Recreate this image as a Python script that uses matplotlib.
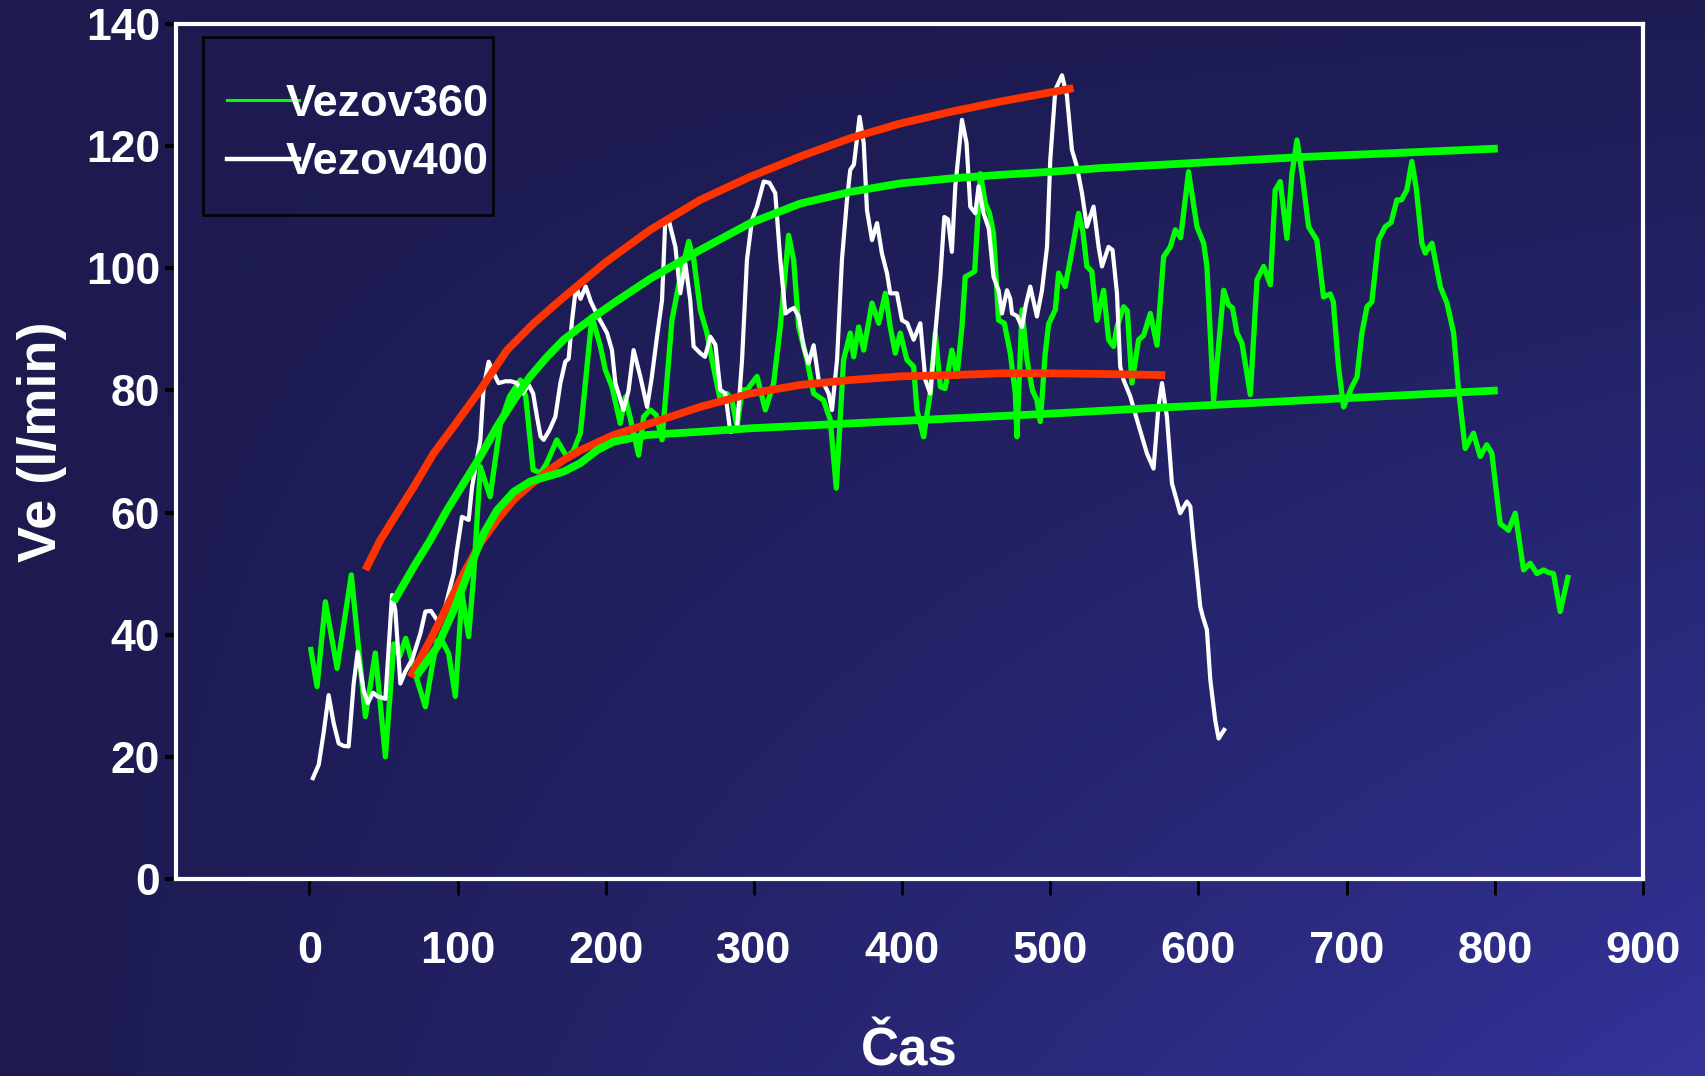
import numpy as np
import matplotlib
matplotlib.use("Agg")
import matplotlib.pyplot as plt
from matplotlib.lines import Line2D
from matplotlib.patches import Rectangle

# Vezov360 (green trace)
v360_t = [0.7, 5.2, 10.8, 18.7, 28.3, 37.8, 44.5, 51.3, 57, 61, 65, 72.7, 78.3, 82.8, 86.2, 90,
          94.0, 98.5, 103.0, 107.5, 110.8, 115.4, 122.0, 128.9, 135, 142.4, 146, 151.0, 156, 160,
          167.0, 173.6, 178, 182.9, 190.7, 196.4, 199.7, 204.2, 209.8, 213.2, 217, 222.2, 225.6,
          230, 234, 238.0, 244.7, 250.3, 256.0, 259.4, 263.8, 268.3, 271.7, 277.3, 281.8, 285.2,
          288.6, 292.0, 295.4, 302.1, 307.7, 313.3, 317.8, 323.4, 326.8, 330.2, 335.8, 340.3,
          347.0, 351.5, 355.6, 360.5, 365.0, 367.3, 370.7, 374.1, 379.7, 384.2, 388.7, 392.0,
          395.4, 398.8, 403.3, 407.8, 410.0, 414.5, 419.0, 422.4, 425.8, 429, 433.6, 437.0, 440.4,
          442.6, 447.1, 449, 452.8, 456.2, 459, 461.7, 465.1, 469, 473.0, 476.4, 477.5, 480.9,
          484.3, 488, 491.0, 493.3, 496.6, 498.9, 503.4, 505.6, 510.0, 513.5, 515.7, 519.1, 522,
          524.7, 528, 531.5, 536.0, 539.4, 542.7, 545, 549.5, 552, 555.1, 559.6, 563, 567.5,
          572.0, 576.5, 581.0, 584.4, 588, 593.3, 599.0, 603.5, 605.7, 610.2, 617.0, 620.3, 623,
          626.0, 629.4, 635.0, 639.5, 644.0, 648.5, 651.8, 655.2, 659.7, 663.1, 666.5, 669.9,
          674.3, 679.9, 684.4, 688.9, 691, 694.5, 697.9, 703.6, 707.0, 710.3, 713.7, 717, 721.5,
          726.0, 730, 733.9, 737, 740.6, 744.0, 747, 750.8, 753.0, 757.6, 763.2, 767.7, 772.2,
          775.5, 780.0, 785.6, 790.1, 794.6, 798.0, 803.6, 809.2, 813.8, 819.4, 823.9, 828.4,
          832.9, 836, 839.6, 844.1, 849.7]
v360_ve = [38.0, 31.5, 45.4, 34.5, 49.8, 26.6, 37.0, 20.0, 38.5, 36.5, 39.4, 32.6, 28.2, 34.8, 39.0,
           38.8, 36.9, 29.9, 46.8, 39.7, 49.5, 67.5, 62.6, 74.6, 79, 81.7, 79, 67.0, 66.5, 68,
           71.9, 69.2, 70, 73.0, 92.1, 87.2, 83.4, 80.6, 74.6, 78.9, 75, 69.4, 75.7,
           76.8, 76, 71.9, 91.5, 98.6, 104.4, 101.4, 93.2, 89.4, 85.0, 78.4, 79.5, 78.4,
           74.1, 80.1, 80.1, 82.3, 76.8, 81.2, 90.4, 105.4, 101.4, 90.4, 85.0, 79.5,
           78.4, 75.2, 64.0, 85.0, 89.4, 85.5, 90.4, 86.6, 94.3, 91.0, 95.9, 90.4,
           86.1, 89.4, 85.0, 83.9, 76.8, 72.4, 79.5, 89.4, 80.6, 80.3, 86.6, 82.3, 90.4,
           98.6, 99.2, 99.5, 115.5, 110.6, 109, 105.7, 91.5, 91, 86.1, 79.5, 72.4, 93.2,
           85.0, 80, 78.4, 74.9, 86.1, 90.9, 93.2, 99.2, 97.0, 101.4, 104.4, 109.0, 106,
           100.3, 99.5, 91.5, 96.4, 88.3, 87.2, 90.4, 93.7, 93, 81.2, 88.3, 89, 92.6,
           87.4, 101.9, 103.5, 106.3, 105, 115.8, 106.8, 104.1, 100.3, 78.4, 96.4, 94.0, 93.5,
           89.4, 87.7, 79.3, 98.1, 100.3, 97.3, 112.8, 114.2, 104.9, 115.5, 121.0, 115.5,
           106.8, 104.6, 95.3, 95.8, 94.5, 83.9, 77.3, 80.6, 82.2, 89.4, 93.7, 94.5, 104.6,
           106.8, 107.5, 111.2, 111.2, 112.8, 117.5, 113, 104.1, 102.5, 104.1, 97.0, 94.3, 89.4,
           80.1, 70.5, 73.0, 69.2, 71.1, 69.7, 58.2, 57.1, 59.9, 50.6, 51.7, 50.0,
           50.6, 50.2, 50.0, 43.8, 49.8]

# Vezov400 (white trace)
v400_t = [1.8, 6.3, 9.6, 13.0, 16.4, 19.8, 23, 26.5, 29.9, 32.6, 36.6, 39.4, 43, 46, 51.3, 55.8, 58,
          61.4, 64.8, 69.3, 74.9, 78.3, 82, 86.2, 90, 94.0, 97.4, 99.6, 103.0, 107.5, 109.8, 112.5,
          115.4, 117.6, 121.0, 124, 127.7, 132.2, 136, 140.1, 144, 148.0, 151, 153.6, 156, 158.1,
          162, 166.0, 169.4, 172.7, 175, 177.3, 180, 183, 186.5, 190, 195, 200.9, 204.2, 206.5,
          212.0, 215.4, 218.8, 223.3, 227.9, 231, 234.6, 238.0, 240.2, 242.5, 247.0, 250.3, 253.7,
          257.0, 259.3, 263.8, 267, 270.6, 274, 277.3, 280.7, 284.1, 288.5, 292.0, 295.3, 298.7,
          302.1, 306.6, 310.5, 314.4, 317.8, 321.2, 324.6, 327, 330.2, 333.5, 336.9, 340.3, 343.7,
          347, 350.4, 352.7, 356.1, 359.4, 362.8, 365.0, 367.5, 371.3, 374.1, 376.3, 379.7, 383.1,
          386.4, 389.8, 392.0, 396.5, 399.9, 403.5, 407.8, 412.3, 415.7, 419.0, 422.4, 425.8, 428.5,
          431, 433.6, 435.9, 440.4, 443.5, 446.0, 449.4, 451.6, 455.0, 458.5, 461.7, 465.1, 467.4,
          470.8, 473, 474.2, 477.5, 480.9, 483.5, 486.5, 491.0, 494.4, 497.8, 500.0, 503.4, 507.9,
          511.2, 514.6, 518.0, 521.4, 524.7, 529.2, 532.6, 534.9, 539.3, 542, 545.0, 547.2, 549.5,
          554, 558.5, 561.9, 565.2, 569.7, 573, 575.4, 578.7, 582.1, 587.7, 592.2, 594.5, 596.6,
          599, 601.2, 603, 605.7, 608, 611.3, 613.6, 618.1]
v400_ve = [16.2, 18.7, 23.9, 30.1, 25.5, 22.2, 21.8, 21.7, 32.0, 37.2, 30.9, 28.8, 30.5, 29.9, 29.5,
           46.5, 44, 32.0, 34, 35.9, 40.2, 43.8, 43.9, 42.4, 42.8, 46.8, 50.0, 53.9, 59.3, 58.8,
           64.2, 68, 71.9, 80.6, 84.7, 83, 81.2, 81.5, 81.5, 81.2, 79.5, 80.9, 79.5, 75.7, 72.5,
           71.9, 73.5, 75.7, 81.2, 84.7, 85.2, 91.5, 97, 95, 97, 94.5, 92, 89.4, 86.6, 81.2,
           76.8, 80, 86.6, 82.3, 77.3, 82, 88.8, 94.8, 107.9, 107.9, 103.5, 95.9, 100.8,
           94.8, 87.2, 86.1, 85.5, 88.8, 87.5, 80.1, 79.5, 73.2, 73.5, 85.0, 101.4, 107.9,
           110.1, 114.2, 114, 112.3, 101.4, 92.6, 93.2, 93.5, 92.1, 87.2, 84.4, 87.4, 81.7,
           81.2, 79.5, 76.8, 85.0, 101.4, 111.2, 116.1, 117, 124.8, 120.5, 109.5, 104.6, 107.4,
           102.4, 99.2, 95.9, 95.9, 91.5, 91, 88.3, 91.0, 81.7, 79.5, 89.4, 98.6, 108.4,
           108, 102.7, 113.4, 124.3, 120.5, 110.1, 109.0, 113.4, 109.0, 106.5, 98.6, 96.4, 92.6,
           96.4, 95, 92.6, 92.2, 90.4, 94, 97.0, 92.1, 96.4, 103.5, 117.8, 129.2, 131.6,
           128.3, 119.4, 116.6, 112.3, 106.8, 110.1, 103.5, 100.3, 103.5, 103, 95.9, 83.9, 81.7,
           79, 75.2, 72.4, 69.7, 67.2, 77.3, 81.2, 75.7, 64.8, 59.9, 61.8, 61, 55.5,
           50, 44.6, 42.9, 40.8, 32.6, 26, 23, 24.7]

# hand-drawn envelope curves
red_top_t = [37.8, 47.9, 59.2, 70.4, 83.9, 97.4, 115.4, 133.4, 151.4, 169.4, 200, 230.1, 263.8,
             297.6, 331.3, 365, 398.8, 432.5, 466.3, 500, 515.7]
red_top_ve = [50.6, 55.5, 59.9, 64.2, 69.7, 74.1, 80.1, 86.6, 91.0, 94.8, 101.0, 106.3, 111.2,
              115.0, 118.3, 121.3, 123.7, 125.6, 127.3, 128.8, 129.5]
red_low_t = [68.2, 81.6, 92.9, 104.1, 115.4, 126.7, 137.9, 149.1, 160.4, 171.6, 182.9, 205.3,
             230, 263.8, 297.6, 331.3, 365, 398.8, 432.5, 466.3, 500, 533.7, 577.6]
red_low_ve = [33.1, 39.1, 44.6, 50.0, 55.0, 58.8, 62.1, 64.5, 66.7, 68.6, 70.2, 72.7,
              74.6, 77.3, 79.5, 80.9, 81.7, 82.3, 82.5, 82.8, 82.8, 82.7, 82.5]
green_top_t = [56.9, 70.4, 81.6, 92.9, 104.1, 115.4, 126.7, 137.9, 149.1, 160.4, 171.6, 182.9,
               194.1, 205.3, 230.1, 263.8, 297.6, 331.3, 365, 398.8, 432.5, 466.3, 500, 533.7,
               668.7, 802]
green_top_ve = [45.4, 51.1, 55.5, 60.4, 64.8, 69.2, 74.1, 78.4, 82.3, 85.5, 88.3, 90.4,
                92.4, 94.3, 98.3, 103.0, 107.4, 110.6, 112.5, 113.9, 114.7, 115.3, 115.8, 116.4,
                118.2, 119.6]
green_low_t = [72.5, 86.2, 97.4, 108.6, 117.6, 126.7, 137.9, 149.1, 160.4, 171.6, 182.9, 194.1,
               205.3, 227.9, 261.6, 297.6, 365, 432.5, 500, 567.5, 802]
green_low_ve = [33.3, 38.0, 44.0, 51.1, 56.6, 60.4, 63.4, 65.1, 65.9, 66.7, 68.1, 70.2,
                71.6, 72.7, 73.2, 73.8, 74.6, 75.4, 76.2, 77.1, 80.0]

x_ticks = [0, 100, 200, 300, 400, 500, 600, 700, 800, 900]
y_ticks = [0, 20, 40, 60, 80, 100, 120, 140]

plt.rcParams['font.family'] = ['Liberation Sans', 'DejaVu Sans']
plt.rcParams['font.weight'] = 'bold'

W, H = 1705, 1076
fig = plt.figure(figsize=(W / 100, H / 100), dpi=100)

# navy background brightening towards the lower right corner
xx, yy = np.meshgrid(np.linspace(0, 1, W), np.linspace(0, 1, H))
f = xx * (0.05 + 0.95 * yy)
dark = np.array([28, 26, 78]) / 255
bright = np.array([52, 51, 154]) / 255
grad = dark[None, None, :] + (bright - dark)[None, None, :] * f[..., None]
bg = fig.add_axes([0, 0, 1, 1], zorder=-1)
bg.imshow(grad, aspect='auto', extent=[0, 1, 0, 1])
bg.axis('off')

ax = fig.add_axes([0.10323, 0.18309, 0.86041, 0.79461])
ax.set_facecolor('none')

kw = dict(solid_joinstyle='round', solid_capstyle='butt')
ax.plot(v360_t, v360_ve, color='#00ff00', lw=3.8, **kw)
ax.plot(v400_t, v400_ve, color='white', lw=3.0, **kw)
ax.plot(red_top_t, red_top_ve, color='#ff3300', lw=5.6, **kw)
ax.plot(red_low_t, red_low_ve, color='#ff3300', lw=5.6, **kw)
ax.plot(green_top_t, green_top_ve, color='#00ff00', lw=5.6, **kw)
ax.plot(green_low_t, green_low_ve, color='#00ff00', lw=5.6, **kw)

ax.set_xlim(-90, 900)
ax.set_ylim(0, 140)
ax.set_xticks(x_ticks)
ax.set_yticks(y_ticks)

for s in ax.spines.values():
    s.set_color('white')
    s.set_linewidth(3)

ax.tick_params(axis='y', direction='out', length=8, width=3, color='black',
               labelcolor='white', labelsize=32, pad=3.5)
ax.tick_params(axis='x', direction='out', length=11.5, width=2, color='black',
               labelcolor='white', labelsize=32.5, pad=26)
for lab in ax.get_xticklabels() + ax.get_yticklabels():
    lab.set_fontweight('bold')

ax.set_xlabel('Čas', color='white', fontsize=38, fontweight='bold')
ax.xaxis.set_label_coords(0.5, -0.172)
ax.set_ylabel('Ve (l/min)', color='white', fontsize=39, fontweight='bold')
ax.yaxis.set_label_coords(-0.074, 0.511)

# legend with its own black frame
handles = [Line2D([], [], color='#00ff00', lw=2.2), Line2D([], [], color='white', lw=3.2)]
ax.legend(handles, ['Vezov360', 'Vezov400'], loc='upper left',
          bbox_to_anchor=(0.0348, 0.9295), borderaxespad=0, borderpad=0,
          frameon=False, handlelength=1.6, handletextpad=-0.3, labelspacing=0.38,
          prop={'family': 'Liberation Sans', 'weight': 'bold', 'size': 32.5},
          labelcolor='white')
ax.add_patch(Rectangle((0.0184, 0.777), 0.1977, 0.208, transform=ax.transAxes,
                       fill=False, ec='black', lw=1.8, clip_on=False, zorder=5))

fig.savefig('out.png', dpi=100)
